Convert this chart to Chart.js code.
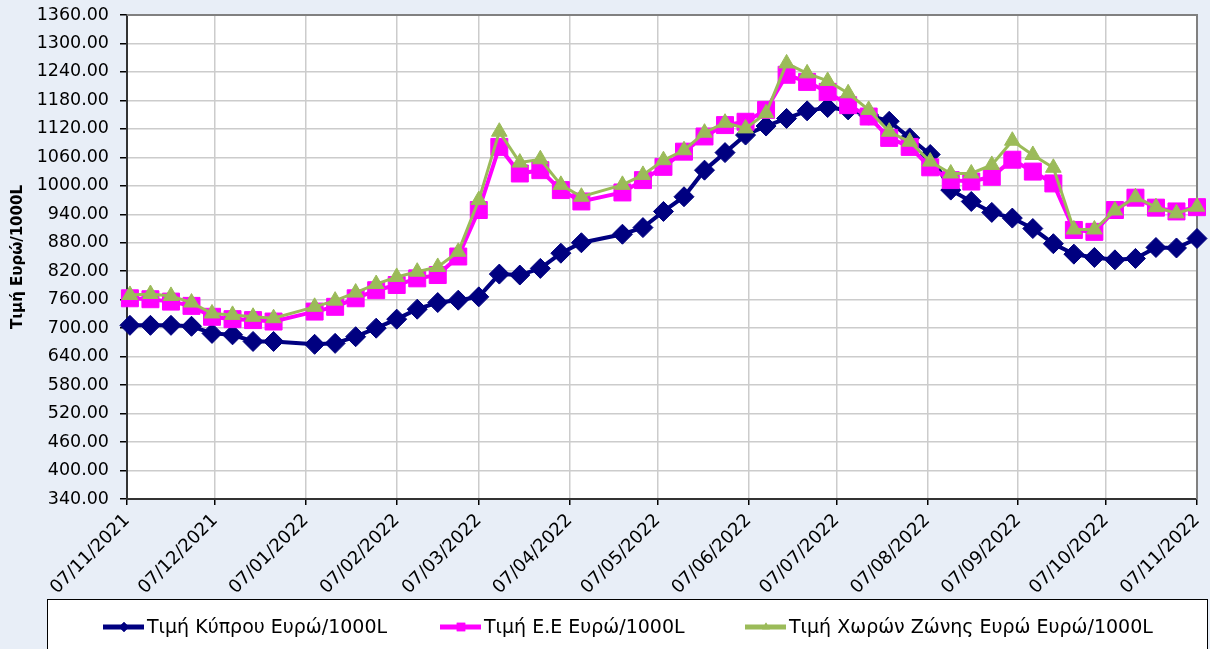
<!DOCTYPE html>
<html>
<head>
<meta charset="utf-8">
<script src="https://cdn.jsdelivr.net/npm/chart.js@4"></script>
<style>
  html, body { margin: 0; padding: 0; background: #e8eef7; }
  #wrap { width: 1210px; height: 649px; position: relative; }
</style>
</head>
<body>
<div id="wrap"><canvas id="chart"></canvas></div>
<script>
// weekly prices (Mondays), Euro / 1000L
const dates = [
  '2021-11-08', '2021-11-15', '2021-11-22', '2021-11-29',
  '2021-12-06', '2021-12-13', '2021-12-20', '2021-12-27',
  '2022-01-10', '2022-01-17', '2022-01-24', '2022-01-31',
  '2022-02-07', '2022-02-14', '2022-02-21', '2022-02-28',
  '2022-03-07', '2022-03-14', '2022-03-21', '2022-03-28',
  '2022-04-04', '2022-04-11', '2022-04-25',
  '2022-05-02', '2022-05-09', '2022-05-16', '2022-05-23', '2022-05-30',
  '2022-06-06', '2022-06-13', '2022-06-20', '2022-06-27',
  '2022-07-04', '2022-07-11', '2022-07-18', '2022-07-25',
  '2022-08-01', '2022-08-08', '2022-08-15', '2022-08-22', '2022-08-29',
  '2022-09-05', '2022-09-12', '2022-09-19', '2022-09-26',
  '2022-10-03', '2022-10-10', '2022-10-17', '2022-10-24', '2022-10-31',
  '2022-11-07'
];
const cyprus = [
  706, 706, 706, 704, 689, 686, 672, 672,
  666, 668, 682, 700, 719, 740, 754, 759,
  766, 814, 812, 826, 858, 880, 898,
  912, 946, 977, 1033, 1070, 1107, 1126, 1142, 1158,
  1165, 1160, 1149, 1136, 1101, 1066, 991, 967, 944,
  932, 910, 878, 856, 849, 844, 847, 870, 869, 889
];
const eu = [
  763, 761, 756, 747, 724, 719, 717, 714,
  735, 745, 763, 780, 791, 805, 812, 851,
  949, 1082, 1026, 1033, 991, 967, 986,
  1012, 1040, 1072, 1104, 1128, 1135, 1160, 1234, 1219,
  1198, 1170, 1146, 1101, 1082, 1039, 1012, 1009, 1019,
  1055, 1030, 1005, 907, 903, 949, 975, 954, 946, 955
];
const euroZone = [
  770, 772, 768, 754, 731, 728, 724, 721,
  745, 758, 775, 793, 808, 819, 829, 861,
  970, 1114, 1049, 1056, 1002, 977, 1002,
  1023, 1054, 1075, 1112, 1133, 1121, 1153, 1258, 1237,
  1221, 1195, 1160, 1114, 1093, 1051, 1026, 1026, 1044,
  1095, 1065, 1038, 908, 908, 948, 976, 955, 942, 956
];
const seriesNames = [
  'Τιμή Κύπρου Ευρώ/1000L',
  'Τιμή Ε.Ε Ευρώ/1000L',
  'Τιμή Χωρών Ζώνης Ευρώ Ευρώ/1000L'
];
const tickDates = [
  '2021-11-07', '2021-12-07', '2022-01-07', '2022-02-07', '2022-03-07',
  '2022-04-07', '2022-05-07', '2022-06-07', '2022-07-07', '2022-08-07',
  '2022-09-07', '2022-10-07', '2022-11-07'
];
const tickLabels = [
  '07/11/2021', '07/12/2021', '07/01/2022', '07/02/2022', '07/03/2022',
  '07/04/2022', '07/05/2022', '07/06/2022', '07/07/2022', '07/08/2022',
  '07/09/2022', '07/10/2022', '07/11/2022'
];
const yTitle = 'Τιμή Ευρώ/1000L';

const FONT = '"DejaVu Sans", Verdana, sans-serif';
const DAY = 24 * 3600 * 1000;
const start = Date.parse(tickDates[0]);
const toDay = d => Math.round((Date.parse(d) - start) / DAY);
const tickDays = tickDates.map(toDay);
const pts = vals => vals.map((v, i) => ({ x: toDay(dates[i]), y: v }));

const styles = [
  { color: '#000080', point: 'rectRot', radius: 10, width: 4 },
  { color: '#ff00ff', point: 'rect', radius: 12, width: 4 },
  { color: '#9bbb59', point: 'triangle', radius: 9, width: 3 }
];
const seriesValues = [cyprus, eu, euroZone];

const datasets = seriesValues.map((vals, i) => ({
  label: seriesNames[i],
  data: pts(vals),
  borderColor: styles[i].color,
  backgroundColor: styles[i].color,
  borderWidth: styles[i].width,
  pointStyle: styles[i].point,
  pointRadius: styles[i].radius,
  pointBorderWidth: 1,
  pointBackgroundColor: styles[i].color,
  pointBorderColor: styles[i].color,
  tension: 0,
  clip: false,
  order: 3 - i
}));

// white plot area + grey top/right frame
const plotFrame = {
  id: 'plotFrame',
  beforeDraw(chart) {
    const { ctx, chartArea: a } = chart;
    ctx.save();
    ctx.fillStyle = '#e8eef7';
    ctx.fillRect(0, 0, chart.width, chart.height);
    ctx.fillStyle = '#ffffff';
    ctx.fillRect(a.left, a.top, a.right - a.left, a.bottom - a.top);
    ctx.restore();
  },
  beforeDatasetsDraw(chart) {
    const { ctx, chartArea: a } = chart;
    ctx.save();
    ctx.strokeStyle = '#808080';
    ctx.lineWidth = 2;
    ctx.beginPath();
    ctx.moveTo(a.left, a.top);
    ctx.lineTo(a.right, a.top);
    ctx.lineTo(a.right, a.bottom);
    ctx.stroke();
    ctx.restore();
  }
};

// boxed legend at the bottom, Excel style (line + marker)
const boxLegend = {
  id: 'boxLegend',
  afterDraw(chart) {
    const ctx = chart.ctx;
    const top = 599, cy = 627;
    const starts = [103, 440, 745];
    ctx.save();
    ctx.fillStyle = '#ffffff';
    ctx.fillRect(47, top, 1160, 80);
    ctx.strokeStyle = '#000000';
    ctx.lineWidth = 1;
    ctx.strokeRect(47.5, top + 0.5, 1160, 80);
    chart.data.datasets.forEach((ds, i) => {
      const x0 = starts[i];
      ctx.strokeStyle = ds.borderColor;
      ctx.lineWidth = 5;
      ctx.beginPath();
      ctx.moveTo(x0, cy);
      ctx.lineTo(x0 + 41, cy);
      ctx.stroke();
      ctx.fillStyle = ds.borderColor;
      Chart.helpers.drawPoint(ctx, {
        pointStyle: ds.pointStyle, radius: ds.pointRadius * 0.5, borderWidth: 0
      }, x0 + 21, cy);
      ctx.fill();
      ctx.fillStyle = '#000000';
      ctx.font = '19px ' + FONT;
      ctx.textBaseline = 'middle';
      ctx.textAlign = 'left';
      ctx.fillText(ds.label, x0 + 44, cy + 1);
    });
    ctx.restore();
  }
};

new Chart(document.getElementById('chart'), {
  type: 'line',
  data: { datasets },
  options: {
    responsive: true,
    maintainAspectRatio: false,
    animation: false,
    devicePixelRatio: 1,
    layout: { padding: { left: 0, top: 15, right: 0, bottom: 50 } },
    plugins: { legend: { display: false }, tooltip: { enabled: false } },
    scales: {
      x: {
        type: 'linear',
        min: tickDays[0],
        max: tickDays[tickDays.length - 1],
        afterBuildTicks: axis => { axis.ticks = tickDays.map(v => ({ value: v })); },
        afterFit: axis => {
          axis.height = 100;
          axis.paddingLeft = 0;
          axis.paddingRight = 0;
        },
        ticks: {
          autoSkip: false,
          minRotation: 45,
          maxRotation: 45,
          padding: 5,
          color: '#000000',
          font: { family: FONT, size: 18 },
          callback: (v, i) => tickLabels[i]
        },
        grid: { color: '#cccccc', lineWidth: 1.5, tickColor: '#000000', tickLength: 6 },
        border: { color: '#333333', width: 2 }
      },
      y: {
        min: 340,
        max: 1360,
        afterFit: axis => {
          axis.width = 127;
          axis.paddingTop = 0;
          axis.paddingBottom = 0;
        },
        ticks: {
          stepSize: 60,
          padding: 11,
          color: '#000000',
          font: { family: FONT, size: 17.5 },
          callback: v => v.toFixed(2)
        },
        grid: { color: '#cccccc', lineWidth: 1.5, tickColor: '#000000', tickLength: 7 },
        border: { color: '#333333', width: 2 },
        title: {
          display: true,
          text: yTitle,
          color: '#000000',
          font: { family: FONT, size: 15, weight: 'bold' },
          padding: { top: 9, bottom: 0 }
        }
      }
    }
  },
  plugins: [plotFrame, boxLegend]
});
</script>
</body>
</html>
